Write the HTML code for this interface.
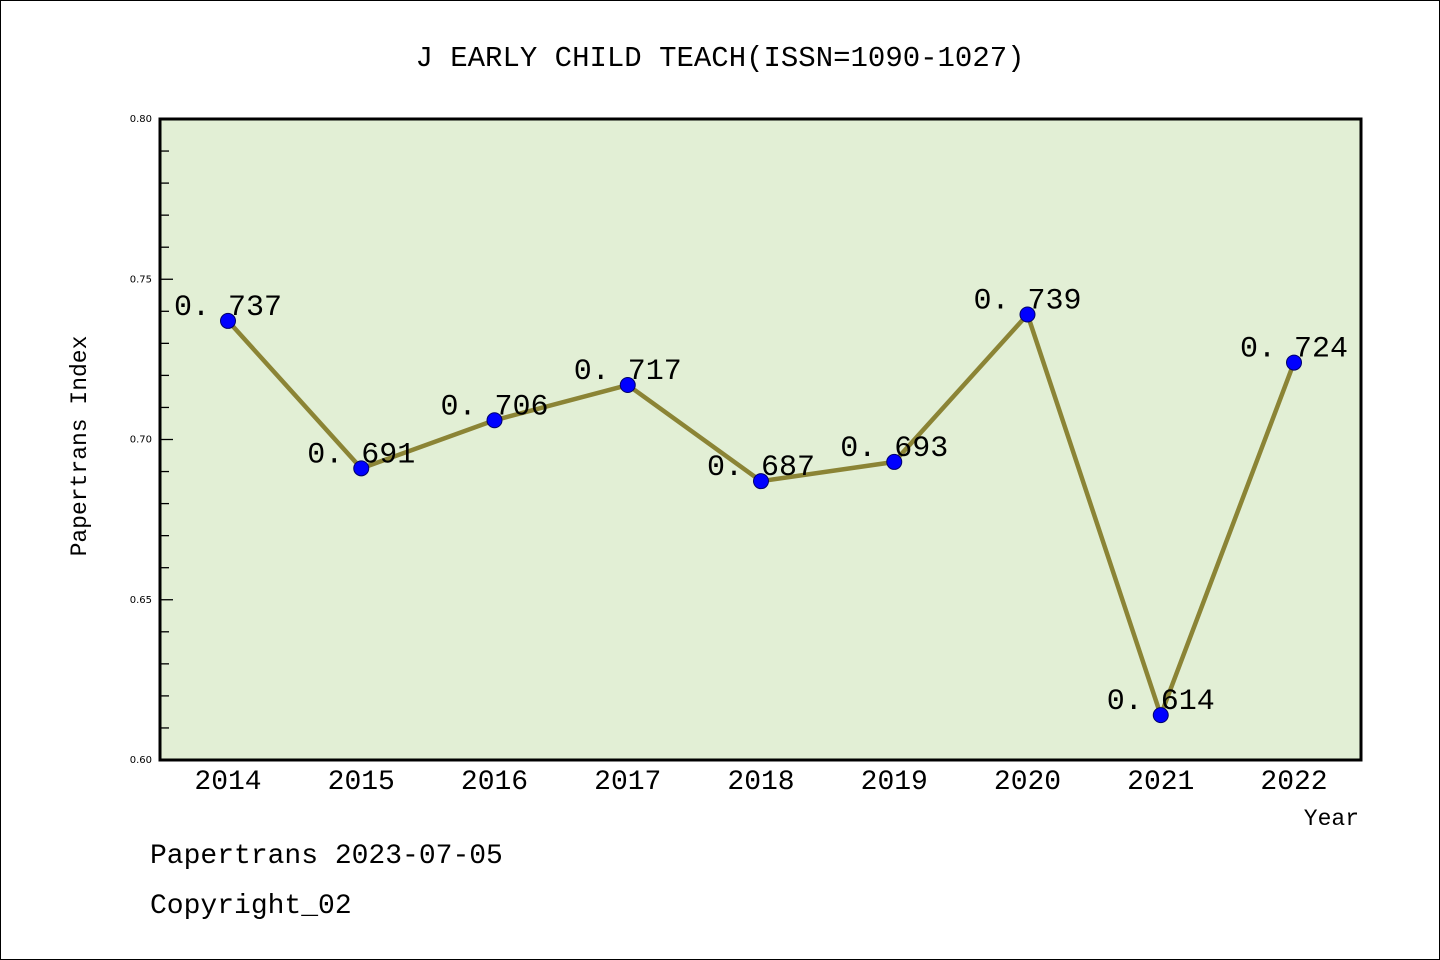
<!DOCTYPE html>
<html><head><meta charset="utf-8"><style>
html,body{margin:0;padding:0;background:#fff}
svg{display:block}
text{font-family:"WenQuanYi Zen Hei","Liberation Mono",monospace}
</style></head><body>
<svg width="1440" height="960" viewBox="0 0 1440 960">
<rect x="0.5" y="0.5" width="1439" height="959" fill="#fff" stroke="#000"/>
<text x="720" y="66" font-size="29" text-anchor="middle">J EARLY CHILD TEACH(ISSN=1090-1027)</text>
<rect x="160" y="119" width="1201" height="641" fill="#e2efd5"/>
<g id="axes"></g>
<g id="marks"></g>
<rect x="160" y="119" width="1201" height="641" fill="none" stroke="#000" stroke-width="3"/>
<text x="86" y="446" font-size="23" text-anchor="middle" transform="rotate(-90 86 446)">Papertrans Index</text>
<text x="1359" y="825" font-size="23" text-anchor="end">Year</text>
<text x="150" y="863" font-size="28">Papertrans 2023-07-05</text>
<text x="150" y="913" font-size="28">Copyright_02</text>
</svg>
<script>
const years=["2014","2015","2016","2017","2018","2019","2020","2021","2022"];
const values=[0.737,0.691,0.706,0.717,0.687,0.693,0.739,0.614,0.724];
const yTicks=["0.60","0.65","0.70","0.75","0.80"];
const ns="http://www.w3.org/2000/svg";
const X0=228,XS=133.25,yMin=0.6,yMax=0.8,PT=119,PB=760;
const xs=i=>X0+i*XS;
const ys=v=>PB-(v-yMin)/(yMax-yMin)*(PB-PT);
function mk(t,a,p){const e=document.createElementNS(ns,t);for(const k in a)e.setAttribute(k,a[k]);p.appendChild(e);return e;}
const ax=document.getElementById('axes'),mg=document.getElementById('marks');
for(let k=0;k<=20;k++){const v=yMin+k*0.01;const y=ys(v);const major=k%5===0;
const l=mk('line',{x1:160,x2:160+(major?13:9),y1:y,y2:y,stroke:'#000','stroke-width':1.3},ax);

}
yTicks.forEach(t=>{const e=mk('text',{x:152,y:ys(parseFloat(t))+3,'font-size':10,'text-anchor':'end',style:'font-family:"DejaVu Sans",sans-serif'},ax);e.textContent=t;

});
years.forEach((yr,i)=>{const e=mk('text',{x:xs(i),y:789,'font-size':28,'text-anchor':'middle'},ax);e.textContent=yr;

});
const pl=mk('polyline',{points:values.map((v,i)=>xs(i)+','+ys(v)).join(' '),fill:'none',stroke:'#8b8435','stroke-width':4.5,'stroke-linejoin':'round'},mg);


values.forEach((v,i)=>{const c=mk('circle',{cx:xs(i),cy:ys(v),r:7.5,fill:'#0000ff',stroke:'#00006a','stroke-width':1},mg);


const t=mk('text',{x:xs(i),y:ys(v)-6,'font-size':30,'text-anchor':'middle'},mg);t.textContent=v.toFixed(3).replace('.','. ');

});
</script>
</body></html>
